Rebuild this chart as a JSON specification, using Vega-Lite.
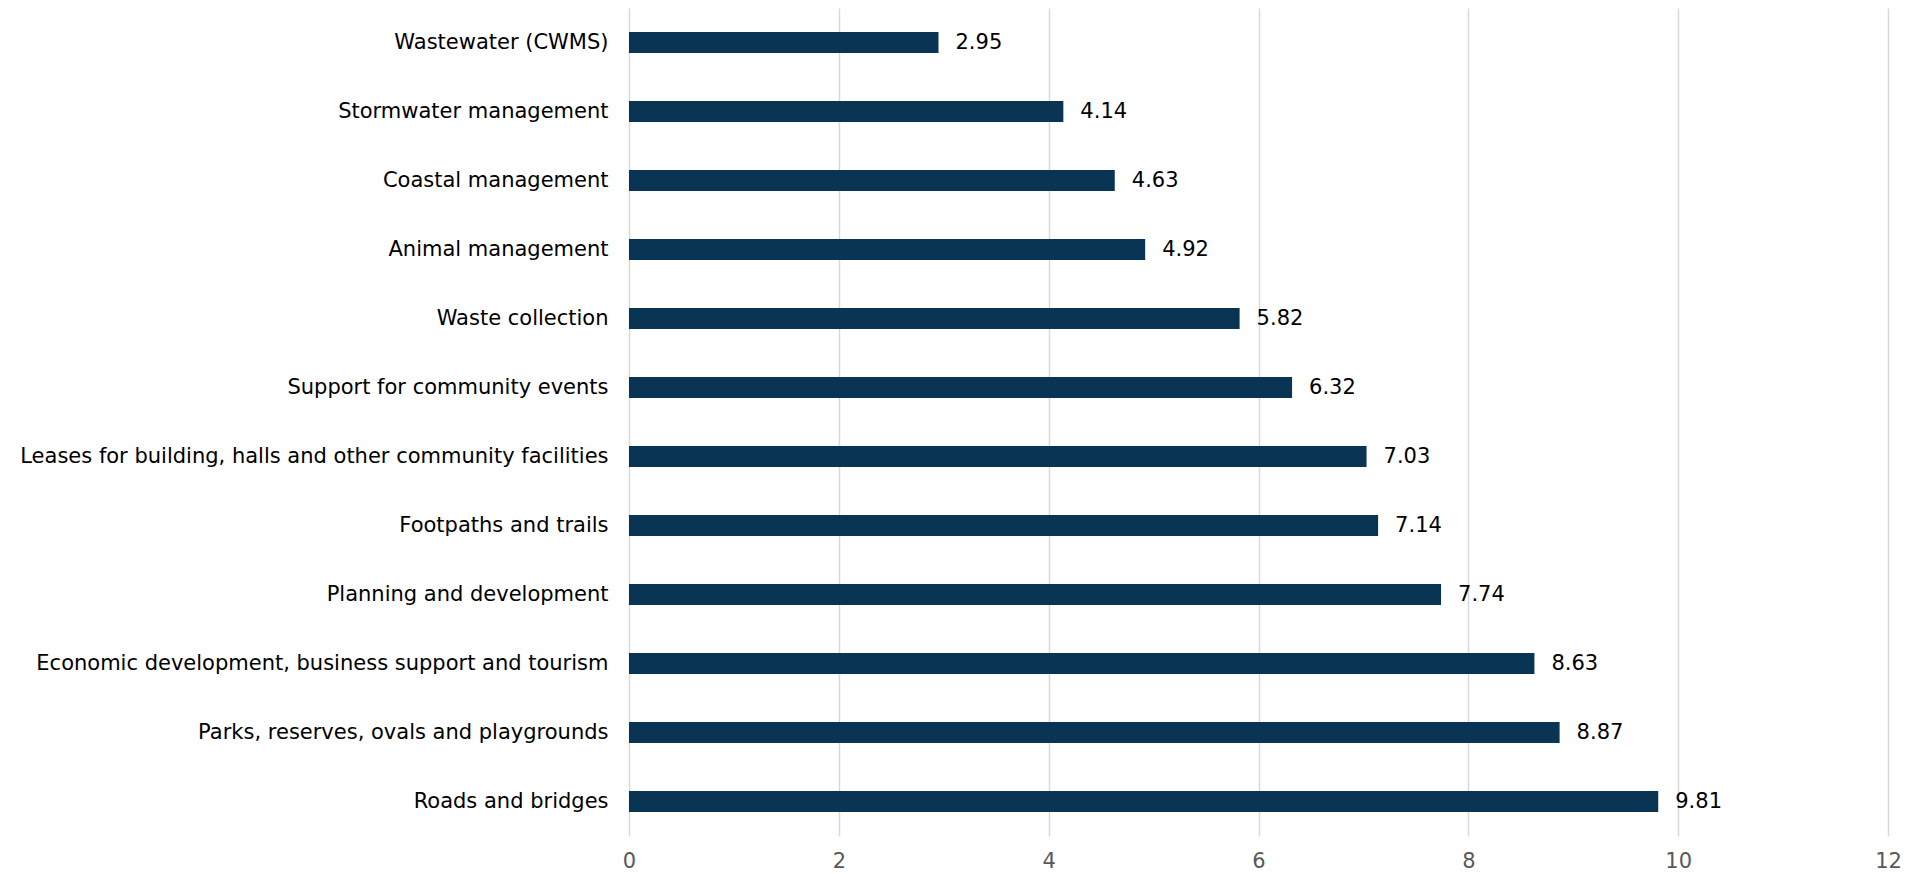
{
  "$schema": "https://vega.github.io/schema/vega-lite/v6.json",
  "width": 1259,
  "height": 828,
  "autosize": {"type": "none"},
  "padding": {"left": 629, "top": 8, "right": 30, "bottom": 38},
  "background": "white",
  "config": {"view": {"stroke": null}, "font": "DejaVu Sans"},
  "data": {"values": [
    {"service": "Wastewater (CWMS)", "score": 2.95},
    {"service": "Stormwater management", "score": 4.14},
    {"service": "Coastal management", "score": 4.63},
    {"service": "Animal management ", "score": 4.92},
    {"service": "Waste collection", "score": 5.82},
    {"service": "Support for community events", "score": 6.32},
    {"service": "Leases for building, halls and other community facilities", "score": 7.03},
    {"service": "Footpaths and trails", "score": 7.14},
    {"service": "Planning and development", "score": 7.74},
    {"service": "Economic development, business support and tourism", "score": 8.63},
    {"service": "Parks, reserves, ovals and playgrounds", "score": 8.87},
    {"service": "Roads and bridges", "score": 9.81}
  ]},
  "encoding": {
    "y": {"field": "service", "type": "nominal", "sort": null,
      "scale": {"paddingInner": 0, "paddingOuter": 0},
      "axis": {"title": null, "domain": false, "ticks": false, "grid": false,
        "labelFont": "DejaVu Sans", "labelFontSize": 21, "labelColor": "#000000",
        "labelPadding": 21, "labelLimit": 700}},
    "x": {"field": "score", "type": "quantitative",
      "scale": {"domain": [0, 12], "nice": false},
      "axis": {"title": null, "domain": false, "ticks": false, "values": [0,2,4,6,8,10,12],
        "grid": true, "gridColor": "#d9d9d9", "gridWidth": 1.5,
        "labelFont": "DejaVu Sans", "labelFontSize": 21, "labelColor": "#595959",
        "labelPadding": 14, "labelFlush": false}}
  },
  "layer": [
    {"mark": {"type": "bar", "size": 21, "color": "#0a3453"}},
    {"mark": {"type": "text", "align": "left", "baseline": "middle", "dx": 17, "fontSize": 21, "font": "DejaVu Sans", "color": "#000000"},
      "encoding": {"text": {"field": "score", "type": "quantitative", "format": ".2f"}}}
  ]
}
